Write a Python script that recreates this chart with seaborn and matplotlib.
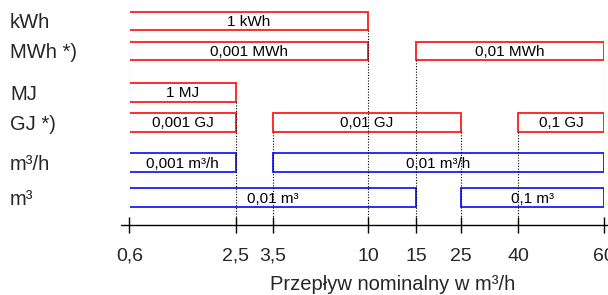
import numpy as np
import matplotlib
matplotlib.use("Agg")
import matplotlib.pyplot as plt
import seaborn as sns

# ---- data ----
rows = ["kWh", "MWh *)", "MJ", "GJ *)", "m³/h", "m³"]
row_colors = ["red", "red", "red", "red", "blue", "blue"]
seg_row = ["kWh", "MWh *)", "MWh *)", "MJ", "GJ *)", "GJ *)", "GJ *)",
           "m³/h", "m³/h", "m³", "m³"]
seg_start = [0.6, 0.6, 15, 0.6, 0.6, 3.5, 40, 0.6, 3.5, 0.6, 25]
seg_end = [10, 10, 60, 2.5, 2.5, 25, 60, 2.5, 60, 15, 60]
seg_label = ["1 kWh", "0,001 MWh", "0,01 MWh", "1 MJ", "0,001 GJ", "0,01 GJ",
             "0,1 GJ", "0,001 m³/h", "0,01 m³/h", "0,01 m³", "0,1 m³"]
tick_vals = [0.6, 2.5, 3.5, 10, 15, 25, 40, 60]
tick_labels = ["0,6", "2,5", "3,5", "10", "15", "25", "40", "60"]
xlabel = "Przepływ nominalny w m³/h"

# ---- layout (not data) ----
row_pos = [0, 1, 2.37, 3.37, 4.73, 5.88]
tick_px = [129.5, 236, 273, 368, 416, 461, 518, 604]   # scale anchor positions
bar_h = 0.63
edge = {"red": "#ff1a1a", "blue": "#1a1aff"}

sns.set_theme(style="white")
plt.rcParams["font.family"] = ["Liberation Sans", "DejaVu Sans"]

W, H = 608, 295
fig = plt.figure(figsize=(W / 100, H / 100), dpi=100)
ax = fig.add_axes([129.5 / W, (H - 225) / H, (604 - 129.5) / W, 225 / H])

fwd = lambda x: np.interp(x, tick_vals, tick_px)
inv = lambda p: np.interp(p, tick_px, tick_vals)
ax.set_xscale("function", functions=(fwd, inv))
ax.set_xlim(0.6, 60)
ax.set_ylim(6.8, -0.7)

ypos = dict(zip(rows, row_pos))
col = dict(zip(rows, row_colors))

for r, s, e, lab in zip(seg_row, seg_start, seg_end, seg_label):
    y = ypos[r]
    ax.barh(y, e - s, left=s, height=bar_h, facecolor="white",
            edgecolor=edge[col[r]], linewidth=1.3, zorder=2)
    xm = inv((fwd(s) + fwd(e)) / 2)
    ax.text(xm, y + 0.04, lab, ha="center", va="center", fontsize=11,
            color="black", zorder=4)

# dotted guide lines from the highest bar touching each boundary down to axis
for v in tick_vals:
    tops = [ypos[r] for r, s, e in zip(seg_row, seg_start, seg_end)
            if np.isclose(s, v) or np.isclose(e, v)]
    if tops:
        y0 = min(tops) + bar_h / 2
        ax.plot([v, v], [y0, 6.8], ls=(0, (1, 1.5)), color="black", lw=0.8,
                zorder=3)

for sp in ["top", "right", "left"]:
    ax.spines[sp].set_visible(False)
ax.spines["bottom"].set_color("black")
ax.spines["bottom"].set_linewidth(1.0)
ax.plot([-0.017, 0], [0, 0], transform=ax.transAxes, color="black", lw=1.0,
        clip_on=False)
ax.plot([1, 1.02], [0, 0], transform=ax.transAxes, color="black", lw=1.0,
        clip_on=False)

ax.set_xticks(tick_vals)
ax.set_xticklabels(tick_labels, fontsize=14)
ax.xaxis.set_minor_locator(matplotlib.ticker.NullLocator())
ax.tick_params(axis="x", direction="inout", length=11, width=1.0,
               color="black", pad=11, bottom=True)

ax.set_yticks(row_pos)
ax.set_yticklabels(rows, fontsize=14.5, ha="left")
ax.tick_params(axis="y", length=0, pad=(129.5 - 10) * 0.72)

ax.set_xlabel(xlabel, fontsize=14.5, labelpad=2)
ax.xaxis.set_label_coords((393 - 129.5) / (604 - 129.5), -0.22)
ax.grid(False)

fig.savefig("out.png", dpi=100)
